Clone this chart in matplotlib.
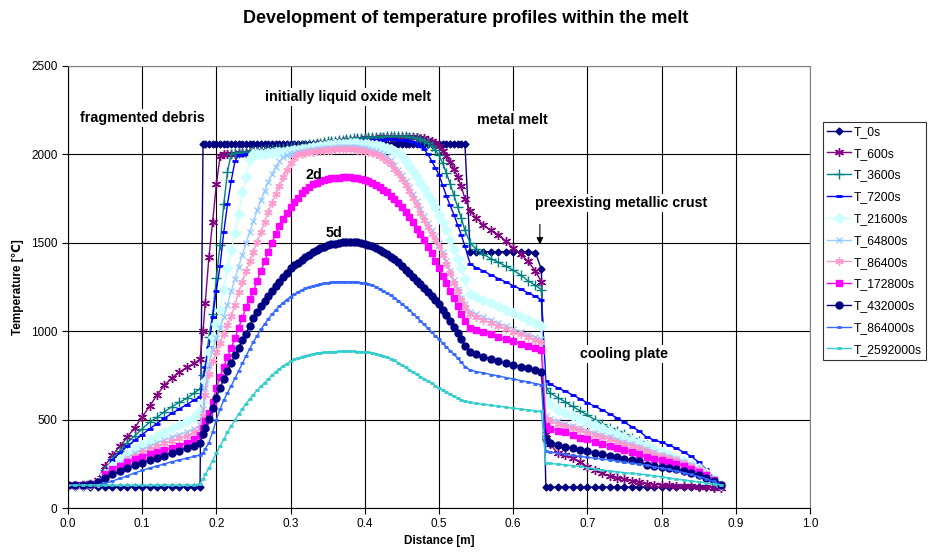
import matplotlib
matplotlib.use("Agg")
import matplotlib.pyplot as plt

plt.rcParams["font.family"] = ["Liberation Sans", "DejaVu Sans", "Noto Sans CJK JP"]

# node positions [m], per region
x_debris = [0.00, 0.01, 0.02, 0.03, 0.04, 0.05, 0.06, 0.07, 0.08, 0.09,
            0.10, 0.11, 0.12, 0.13, 0.14, 0.15, 0.16, 0.17, 0.178]
x_oxide = [0.182, 0.185, 0.19, 0.195, 0.20, 0.205, 0.21, 0.215, 0.22, 0.225,
           0.23, 0.235, 0.24, 0.245, 0.25, 0.255, 0.26, 0.265, 0.27, 0.275,
           0.28, 0.285, 0.29, 0.295, 0.30, 0.305, 0.31, 0.315, 0.32, 0.325,
           0.33, 0.335, 0.34, 0.345, 0.35, 0.355, 0.36, 0.365, 0.37, 0.375,
           0.38, 0.385, 0.39, 0.395, 0.40, 0.405, 0.41, 0.415, 0.42, 0.425,
           0.43, 0.435, 0.44, 0.445, 0.45, 0.455, 0.46, 0.465, 0.47, 0.475,
           0.48, 0.485, 0.49, 0.495, 0.50, 0.505, 0.51, 0.515, 0.52, 0.525,
           0.53, 0.535]
x_metal = [0.542, 0.55, 0.56, 0.57, 0.58, 0.59, 0.60, 0.61, 0.62, 0.63, 0.638]
x_plate = [0.644, 0.65, 0.66, 0.67, 0.68, 0.69, 0.70, 0.71, 0.72, 0.73,
           0.74, 0.75, 0.76, 0.77, 0.78, 0.79, 0.80, 0.81, 0.82, 0.83,
           0.84, 0.85, 0.86, 0.87, 0.88]
distance = x_debris + x_oxide + x_metal + x_plate

# temperatures [degC] - debris / oxide / metal / plate
t_0s = ([125, 118, 118, 118, 118, 118, 118, 118, 118, 118, 118, 118, 118, 118, 118, 118, 118, 118, 118]
        + [2060, 2060, 2060, 2060, 2060, 2060, 2060, 2060, 2060, 2060,
           2060, 2060, 2060, 2060, 2060, 2060, 2060, 2060, 2060, 2060,
           2060, 2060, 2060, 2060, 2060, 2060, 2060, 2060, 2060, 2060,
           2060, 2060, 2060, 2060, 2060, 2060, 2060, 2060, 2060, 2060,
           2060, 2060, 2060, 2060, 2060, 2060, 2060, 2060, 2060, 2060,
           2060, 2060, 2060, 2060, 2060, 2060, 2060, 2060, 2060, 2060,
           2060, 2060, 2060, 2060, 2060, 2060, 2060, 2060, 2060, 2060,
           2060, 2060]
        + [1450, 1450, 1450, 1450, 1450, 1450, 1450, 1450, 1450, 1445, 1350]
        + [118, 118, 118, 118, 118, 118, 118, 118, 118, 118, 118, 118, 118, 118, 118, 118, 118, 118, 118,
           118, 118, 118, 118, 118, 118])
t_600s = ([130, 130, 135, 140, 160, 240, 300, 350, 400, 455, 515, 575, 640, 695, 735, 768, 795, 818, 840]
          + [1000, 1160, 1420, 1620, 1830, 1990, 2000, 2001, 2003, 2004,
             2006, 2008, 2010, 2011, 2013, 2015, 2017, 2019, 2021, 2023,
             2026, 2028, 2031, 2033, 2036, 2039, 2042, 2045, 2048, 2051,
             2054, 2057, 2060, 2063, 2066, 2069, 2072, 2075, 2077, 2080,
             2082, 2084, 2086, 2088, 2090, 2092, 2093, 2095, 2096, 2097,
             2098, 2099, 2100, 2100, 2100, 2100, 2100, 2099, 2097, 2094,
             2090, 2083, 2075, 2062, 2045, 2020, 1990, 1958, 1920, 1875,
             1820, 1750]
          + [1680, 1640, 1600, 1570, 1545, 1510, 1470, 1435, 1395, 1340, 1280]
          + [420, 360, 310, 298, 283, 262, 232, 215, 197, 182, 172, 163, 155, 145, 138, 133, 130, 128, 126,
             124, 122, 120, 118, 116, 115])
t_3600s = ([130, 130, 133, 138, 150, 215, 275, 325, 370, 408, 448, 485, 513, 545, 573, 597, 620, 650, 675]
           + [750, 800, 970, 1100, 1300, 1490, 1720, 1900, 2005, 2008,
              2010, 2012, 2014, 2016, 2018, 2020, 2023, 2025, 2028, 2030,
              2033, 2035, 2038, 2040, 2043, 2046, 2049, 2052, 2055, 2058,
              2061, 2064, 2067, 2070, 2073, 2076, 2078, 2081, 2083, 2086,
              2088, 2090, 2092, 2094, 2095, 2097, 2098, 2099, 2100, 2101,
              2102, 2103, 2103, 2103, 2103, 2102, 2100, 2097, 2092, 2085,
              2075, 2063, 2048, 2025, 1995, 1950, 1895, 1835, 1770, 1705,
              1640, 1570]
           + [1500, 1465, 1435, 1410, 1390, 1368, 1346, 1318, 1285, 1260, 1235]
           + [680, 650, 625, 600, 575, 550, 525, 500, 475, 452, 435, 418, 398, 378, 357, 335, 315, 295, 275,
              255, 232, 208, 180, 155, 130])
t_7200s = ([130, 130, 132, 137, 148, 210, 270, 312, 350, 382, 415, 448, 478, 508, 535, 560, 585, 610, 630]
           + [720, 800, 910, 1080, 1230, 1370, 1560, 1720, 1850, 1960,
              1998, 1999, 2000, 2002, 2004, 2006, 2008, 2010, 2013, 2015,
              2018, 2020, 2023, 2025, 2028, 2031, 2034, 2037, 2040, 2043,
              2046, 2049, 2052, 2055, 2058, 2060, 2063, 2065, 2068, 2070,
              2072, 2074, 2076, 2077, 2079, 2080, 2082, 2083, 2084, 2084,
              2085, 2085, 2085, 2084, 2082, 2079, 2075, 2068, 2060, 2048,
              2030, 2000, 1965, 1925, 1885, 1825, 1765, 1712, 1660, 1602,
              1545, 1480]
           + [1380, 1360, 1340, 1318, 1298, 1278, 1258, 1238, 1217, 1197, 1178]
           + [720, 700, 680, 660, 640, 618, 595, 575, 555, 532, 510, 485, 460, 435, 400, 385, 372, 355, 338,
              315, 292, 260, 220, 175, 132])
t_21600s = ([130, 130, 132, 136, 145, 190, 240, 275, 305, 332, 358, 384, 408, 430, 450, 470, 490, 515, 550]
            + [600, 720, 880, 970, 1040, 1120, 1240, 1360, 1460, 1555,
               1665, 1790, 1870, 1975, 2000, 2002, 2003, 2005, 2007, 2009,
               2011, 2013, 2015, 2017, 2020, 2023, 2027, 2030, 2033, 2037,
               2040, 2043, 2046, 2049, 2052, 2055, 2057, 2059, 2060, 2061,
               2062, 2062, 2062, 2061, 2060, 2058, 2055, 2051, 2047, 2042,
               2037, 2030, 2022, 2008, 1990, 1965, 1935, 1905, 1872, 1840,
               1808, 1773, 1738, 1700, 1660, 1617, 1570, 1518, 1465, 1410,
               1355, 1295]
            + [1210, 1195, 1175, 1158, 1140, 1120, 1102, 1085, 1065, 1045, 1030]
            + [610, 590, 555, 538, 520, 502, 485, 468, 452, 435, 420, 403, 385, 368, 352, 335, 318, 300, 282,
               265, 248, 225, 200, 165, 130])
t_64800s = ([130, 130, 132, 135, 142, 175, 215, 250, 285, 310, 330, 350, 368, 385, 400, 415, 430, 448, 470]
            + [560, 680, 810, 900, 960, 1020, 1080, 1150, 1225, 1295,
               1365, 1432, 1500, 1563, 1625, 1683, 1740, 1793, 1845, 1890,
               1930, 1960, 1985, 1997, 2005, 2010, 2015, 2019, 2022, 2025,
               2028, 2031, 2033, 2035, 2037, 2039, 2040, 2041, 2042, 2042,
               2042, 2041, 2040, 2038, 2035, 2030, 2025, 2018, 2010, 2000,
               1990, 1968, 1940, 1913, 1885, 1850, 1815, 1775, 1735, 1692,
               1650, 1610, 1572, 1536, 1500, 1448, 1395, 1342, 1290, 1240,
               1190, 1155]
            + [1110, 1095, 1078, 1062, 1045, 1030, 1013, 997, 980, 965, 955]
            + [520, 505, 490, 475, 462, 450, 437, 424, 412, 399, 386, 373, 360, 346, 332, 315, 300, 290, 278,
               262, 245, 222, 195, 162, 130])
t_86400s = ([130, 130, 132, 135, 140, 170, 205, 240, 270, 295, 315, 333, 350, 365, 380, 395, 410, 428, 450]
            + [520, 640, 760, 830, 880, 932, 985, 1035, 1085, 1150,
               1220, 1280, 1340, 1395, 1450, 1505, 1560, 1618, 1675, 1725,
               1775, 1823, 1870, 1912, 1950, 1980, 2000, 2005, 2010, 2013,
               2015, 2018, 2020, 2023, 2025, 2027, 2028, 2029, 2030, 2030,
               2030, 2029, 2027, 2024, 2020, 2015, 2008, 2000, 1990, 1978,
               1965, 1945, 1920, 1892, 1862, 1828, 1792, 1752, 1712, 1670,
               1628, 1590, 1552, 1516, 1480, 1430, 1380, 1328, 1275, 1225,
               1175, 1135]
            + [1095, 1080, 1063, 1047, 1030, 1015, 998, 982, 966, 950, 940]
            + [505, 492, 478, 464, 451, 439, 426, 414, 402, 389, 376, 364, 351, 338, 324, 308, 294, 284, 272,
               256, 240, 218, 192, 160, 130])
t_172800s = ([130, 130, 132, 135, 145, 190, 218, 240, 258, 275, 290, 303, 315, 328, 340, 353, 367, 388, 415]
             + [450, 490, 540, 600, 680, 740, 800, 855, 905, 960,
                1020, 1075, 1135, 1180, 1225, 1285, 1340, 1395, 1450, 1500,
                1550, 1595, 1635, 1670, 1700, 1730, 1755, 1780, 1800, 1815,
                1830, 1841, 1850, 1857, 1862, 1865, 1868, 1869, 1870, 1870,
                1870, 1868, 1865, 1861, 1855, 1847, 1838, 1827, 1815, 1800,
                1785, 1766, 1745, 1723, 1700, 1675, 1648, 1615, 1580, 1548,
                1515, 1478, 1440, 1398, 1355, 1312, 1270, 1228, 1185, 1140,
                1095, 1060]
             + [1020, 1008, 995, 982, 968, 955, 942, 930, 918, 905, 895]
             + [465, 448, 438, 428, 414, 398, 388, 376, 362, 352, 338, 328, 318, 305, 288, 278, 270, 262, 250,
                238, 222, 205, 188, 160, 130])
t_432000s = ([130, 130, 132, 135, 145, 172, 190, 208, 226, 241, 255, 270, 284, 297, 311, 325, 339, 352, 370]
             + [420, 455, 505, 565, 625, 680, 730, 775, 820, 863,
                905, 948, 985, 1030, 1075, 1108, 1140, 1172, 1200, 1228,
                1255, 1280, 1305, 1330, 1355, 1372, 1388, 1403, 1418, 1433,
                1448, 1460, 1470, 1478, 1485, 1491, 1496, 1499, 1502, 1504,
                1505, 1504, 1502, 1499, 1495, 1488, 1480, 1470, 1460, 1448,
                1435, 1422, 1408, 1390, 1370, 1348, 1327, 1306, 1285, 1265,
                1245, 1222, 1200, 1176, 1152, 1122, 1090, 1058, 1025, 990,
                955, 915]
             + [885, 870, 855, 840, 830, 820, 810, 800, 790, 780, 772]
             + [390, 370, 354, 346, 338, 330, 321, 312, 304, 296, 288, 280, 272, 264, 244, 235, 230, 224, 218,
                210, 198, 185, 170, 150, 128])
t_864000s = ([128, 128, 129, 130, 132, 140, 152, 168, 182, 198, 213, 226, 238, 250, 262, 272, 282, 292, 300]
             + [310, 335, 370, 430, 500, 560, 610, 652, 690, 733,
                775, 818, 860, 900, 940, 975, 1010, 1040, 1070, 1095,
                1120, 1142, 1162, 1179, 1195, 1209, 1222, 1233, 1242, 1250,
                1256, 1262, 1267, 1271, 1274, 1276, 1278, 1279, 1280, 1280,
                1280, 1279, 1277, 1275, 1272, 1267, 1260, 1251, 1240, 1228,
                1215, 1203, 1190, 1173, 1155, 1138, 1120, 1100, 1080, 1059,
                1038, 1016, 995, 975, 955, 932, 910, 890, 870, 848,
                825, 800]
             + [780, 772, 764, 755, 747, 738, 730, 721, 713, 704, 697]
             + [322, 316, 310, 304, 298, 292, 287, 282, 277, 272, 266, 260, 254, 248, 242, 234, 226, 218, 210,
                200, 190, 178, 166, 150, 130])
t_2592000s = ([130, 130, 130, 130, 130, 130, 130, 130, 130, 130, 130, 130, 130, 130, 130, 130, 130, 130, 138]
              + [165, 190, 225, 268, 310, 350, 390, 428, 465, 498,
                 530, 560, 590, 616, 642, 665, 688, 709, 730, 750,
                 770, 787, 803, 817, 830, 840, 848, 855, 862, 867,
                 872, 875, 878, 880, 882, 884, 885, 886, 886, 886,
                 886, 886, 885, 884, 882, 880, 878, 873, 868, 860,
                 852, 844, 835, 822, 808, 795, 782, 769, 756, 743,
                 730, 718, 705, 692, 678, 666, 655, 643, 632, 622,
                 612, 604]
              + [597, 592, 586, 581, 576, 570, 565, 560, 555, 550, 546]
              + [255, 252, 248, 244, 240, 235, 228, 222, 215, 209, 205, 200, 196, 192, 188, 182, 176, 170, 163,
                 158, 153, 148, 143, 137, 130])

labels = ["T_0s", "T_600s", "T_3600s", "T_7200s", "T_21600s", "T_64800s",
          "T_86400s", "T_172800s", "T_432000s", "T_864000s", "T_2592000s"]
series = [t_0s, t_600s, t_3600s, t_7200s, t_21600s, t_64800s,
          t_86400s, t_172800s, t_432000s, t_864000s, t_2592000s]

star = (6, 2, 0)
styles = [
    dict(color="#000080", marker="D", ms=3.5),
    dict(color="#800080", marker=star, ms=6.5, mew=1.0),
    dict(color="#008080", marker="+", ms=6.5, mew=1.0),
    dict(color="#0000FF", marker="_", ms=5, mew=2),
    dict(color="#CCFFFF", marker="D", ms=5),
    dict(color="#99CCFF", marker="x", ms=5, mew=1.0),
    dict(color="#FF99CC", marker=star, ms=6, mew=1.0),
    dict(color="#FF00FF", marker="s", ms=4.8),
    dict(color="#000080", marker="o", ms=5),
    dict(color="#3366FF", marker="_", ms=3.5, mew=2),
    dict(color="#33CCCC", marker="_", ms=3.5, mew=2),
]

fig = plt.figure(figsize=(9.31, 5.56), dpi=100)
ax = fig.add_axes([0.073, 0.0863, 0.797, 0.795])

for vals, lab, st in zip(series, labels, styles):
    assert len(vals) == len(distance), lab
    ax.plot(distance, vals, label=lab, lw=1.0, color=st["color"], marker=st["marker"],
            ms=st["ms"], mew=st.get("mew", 1.0), mfc=st["color"], mec=st["color"])

ax.set_xlim(0, 1.0)
ax.set_ylim(0, 2500)
ax.set_xticks([0.0, 0.1, 0.2, 0.3, 0.4, 0.5, 0.6, 0.7, 0.8, 0.9, 1.0])
ax.set_xticklabels(["0.0", "0.1", "0.2", "0.3", "0.4", "0.5", "0.6", "0.7", "0.8", "0.9", "1.0"])
ax.set_yticks([0, 500, 1000, 1500, 2000, 2500])
ax.grid(True, color="black", lw=0.8)
ax.set_axisbelow(True)
ax.spines["top"].set_color("#808080")
ax.spines["right"].set_color("#808080")
ax.tick_params(labelsize=8.5, direction="out", length=4, color="black")

ax.set_xlabel("Distance [m]", fontsize=8.5, fontweight="bold", labelpad=3)
ax.set_ylabel("Temperature [℃]", fontsize=8.5, fontweight="bold", labelpad=5)
fig.text(0.5, 0.967, "Development of temperature profiles within the melt", fontsize=13,
         fontweight="bold", ha="center", va="center")

box = dict(facecolor="white", edgecolor="none", pad=1.5)
txt = dict(fontsize=10.3, fontweight="bold", ha="center", va="center", bbox=box)
ax.text(0.100, 2206, "fragmented debris", **txt)
ax.text(0.378, 2325, "initially liquid oxide melt", **txt)
ax.text(0.599, 2195, "metal melt", **txt)
ax.text(0.746, 1725, "preexisting metallic crust", **txt)
ax.text(0.749, 871, "cooling plate", **txt)
ax.text(0.332, 1883, "2d", fontsize=10.3, fontweight="bold", ha="center", va="center")
ax.text(0.358, 1555, "5d", fontsize=10.3, fontweight="bold", ha="center", va="center")
ax.annotate("", xy=(0.636, 1475), xytext=(0.636, 1620),
            arrowprops=dict(arrowstyle="-|>", color="black", lw=0.8, mutation_scale=10))

leg = ax.legend(loc="upper left", bbox_to_anchor=(1.017, 0.874), fontsize=8.8,
                frameon=True, fancybox=False, edgecolor="black", borderpad=0.35,
                labelspacing=0.8, handlelength=2.0, handletextpad=0.2, borderaxespad=0)
leg.get_frame().set_linewidth(0.8)

fig.savefig("out.png", dpi=100)
